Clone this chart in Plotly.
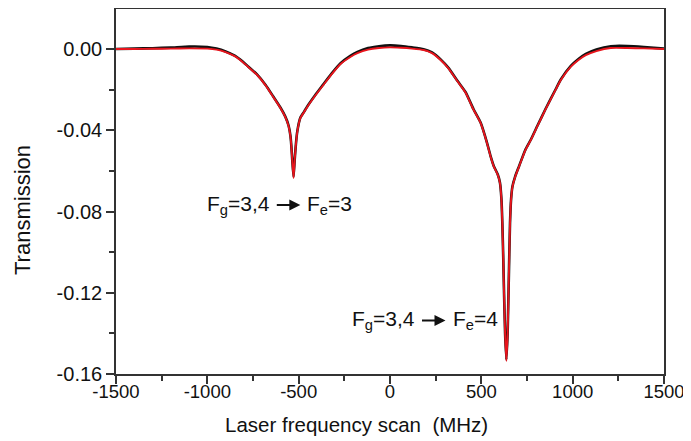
import plotly.graph_objects as go

# Laser frequency scan (MHz)
freq = [-1500, -1400, -1300, -1200, -1100, -1000, -950, -900, -850, -820,
        -780, -727, -680, -639, -600, -573, -555, -545, -540, -535,
        -528, -522, -516, -508, -491, -470, -453, -410, -365, -320,
        -272, -217, -178, -120, -60, 0, 60, 120, 184, 230,
        277, 320, 370, 414, 458, 496, 530, 551, 569, 590,
        602, 610, 615, 620, 624, 630, 637, 644, 650, 657,
        663, 670, 685, 706, 740, 770, 807, 850, 907, 935,
        990, 1030, 1072, 1130, 1209, 1300, 1390, 1500]

# Measured transmission (black)
measured = [0.0000, 0.0002, 0.0004, 0.0007, 0.0012, 0.0010, 0.0002, -0.0012, -0.0033, -0.0052,
            -0.0083, -0.0126, -0.0178, -0.0234, -0.0288, -0.0333, -0.0378, -0.0428, -0.0478, -0.0548,
            -0.0630, -0.0548, -0.0478, -0.0408, -0.0338, -0.0308, -0.0283, -0.0228, -0.0174, -0.0121,
            -0.0071, -0.0034, -0.0014, 0.0005, 0.0014, 0.0018, 0.0015, 0.0008, -0.0001, -0.0017,
            -0.0051, -0.0093, -0.0158, -0.0213, -0.0298, -0.0362, -0.0458, -0.0528, -0.0578, -0.0618,
            -0.0658, -0.0738, -0.0858, -0.1028, -0.1188, -0.1398, -0.1530, -0.1398, -0.1148, -0.0858,
            -0.0738, -0.0678, -0.0628, -0.0578, -0.0498, -0.0448, -0.0378, -0.0298, -0.0198, -0.0150,
            -0.0083, -0.0050, -0.0024, -0.0002, 0.0014, 0.0015, 0.0010, 0.0002]

# Fitted transmission (red)
fitted = [0.0000, 0.0000, 0.0001, 0.0002, 0.0003, 0.0002, -0.0003, -0.0015, -0.0035, -0.0054,
          -0.0085, -0.0128, -0.0180, -0.0236, -0.0290, -0.0335, -0.0380, -0.0430, -0.0480, -0.0550,
          -0.0635, -0.0550, -0.0480, -0.0410, -0.0340, -0.0310, -0.0285, -0.0230, -0.0177, -0.0125,
          -0.0075, -0.0039, -0.0020, -0.0003, 0.0005, 0.0008, 0.0006, 0.0002, -0.0005, -0.0020,
          -0.0054, -0.0095, -0.0160, -0.0215, -0.0300, -0.0364, -0.0460, -0.0530, -0.0580, -0.0620,
          -0.0660, -0.0740, -0.0860, -0.1030, -0.1190, -0.1400, -0.1535, -0.1400, -0.1150, -0.0860,
          -0.0740, -0.0680, -0.0630, -0.0580, -0.0500, -0.0450, -0.0380, -0.0300, -0.0200, -0.0153,
          -0.0087, -0.0055, -0.0030, -0.0010, 0.0005, 0.0005, 0.0003, 0.0000]

x_ticks = [-1500, -1000, -500, 0, 500, 1000, 1500]
x_tick_labels = ["-1500", "-1000", "-500", "0", "500", "1000", "1500"]
y_ticks = [0.00, -0.04, -0.08, -0.12, -0.16]
y_tick_labels = ["0.00", "-0.04", "-0.08", "-0.12", "-0.16"]

FONT = "Liberation Sans, Arial, sans-serif"
AXC = "#333333"

fig = go.Figure()
fig.add_trace(go.Scatter(x=freq, y=measured, mode="lines",
                         line=dict(color="#111111", width=2.6, shape="spline", smoothing=0.5),
                         hoverinfo="skip"))
fig.add_trace(go.Scatter(x=freq, y=fitted, mode="lines",
                         line=dict(color="#e8141c", width=1.9, shape="spline", smoothing=0.5),
                         hoverinfo="skip"))

axis_common = dict(showline=True, linecolor=AXC, linewidth=1.6, mirror=True,
                   ticks="outside", ticklen=8, tickwidth=1.6, tickcolor=AXC,
                   showgrid=False, zeroline=False, automargin=False,
                   ticklabeloverflow="allow")

fig.update_xaxes(range=[-1500, 1500], tickvals=x_ticks, ticktext=x_tick_labels,
                 tickfont=dict(family=FONT, size=18.5, color="#111"),
                 ticklabelstandoff=-8,
                 minor=dict(dtick=250, ticklen=5, tickwidth=1.6, tickcolor=AXC, ticks="outside"),
                 **axis_common)
fig.update_yaxes(range=[-0.16, 0.0197], tickvals=y_ticks, ticktext=y_tick_labels,
                 tickfont=dict(family=FONT, size=20, color="#111"),
                 minor=dict(dtick=0.02, tick0=0, ticklen=5, tickwidth=1.6, tickcolor=AXC, ticks="outside"),
                 **axis_common)

# figure is drawn inside the page body (8 px default margin)
W, H = 683, 433
L, R, T, B = 108, 27, 1, 67
pw, ph = W - L - R, H - T - B

ann_font = dict(family=FONT, size=21, color="#111")
annotations = [
    # axis titles
    dict(text="Laser frequency scan  (MHz)", xref="paper", yref="paper",
         x=(356 - 116) / pw, y=-(424 - 374) / ph, xanchor="center", yanchor="middle",
         showarrow=False, font=dict(family=FONT, size=20.5, color="#111")),
    dict(text="Transmission", xref="paper", yref="paper", textangle=-90,
         x=-(116 - 22) / pw, y=(374 - 210) / ph, xanchor="center", yanchor="middle",
         showarrow=False, font=dict(family=FONT, size=22, color="#111")),
    # transition labels
    dict(text="F<sub>g</sub>=3,4", x=-1012, y=-0.0768, xanchor="left", yanchor="middle",
         showarrow=False, font=ann_font),
    dict(text="", x=-491, y=-0.0768, ax=-628, ay=-0.0768, axref="x", ayref="y",
         showarrow=True, arrowhead=2, arrowsize=1.1, arrowwidth=2, arrowcolor="#111"),
    dict(text="F<sub>e</sub>=3", x=-464, y=-0.0768, xanchor="left", yanchor="middle",
         showarrow=False, font=ann_font),
    dict(text="F<sub>g</sub>=3,4", x=-217, y=-0.1336, xanchor="left", yanchor="middle",
         showarrow=False, font=ann_font),
    dict(text="", x=304, y=-0.1336, ax=167, ay=-0.1336, axref="x", ayref="y",
         showarrow=True, arrowhead=2, arrowsize=1.1, arrowwidth=2, arrowcolor="#111"),
    dict(text="F<sub>e</sub>=4", x=332, y=-0.1336, xanchor="left", yanchor="middle",
         showarrow=False, font=ann_font),
]

fig.update_layout(width=W, height=H, showlegend=False,
                  plot_bgcolor="white", paper_bgcolor="white",
                  margin=dict(l=L, r=R, t=T, b=B),
                  annotations=annotations)

fig.write_html("out.html")
